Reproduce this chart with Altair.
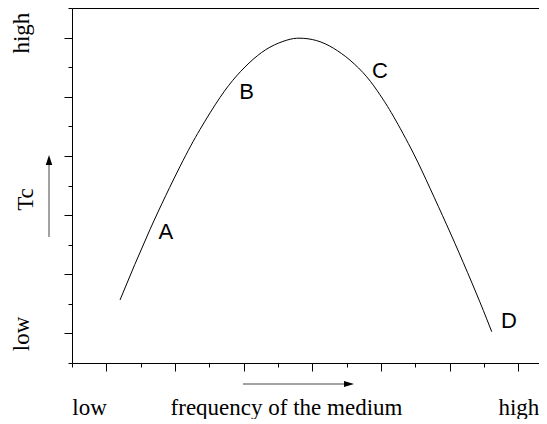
import altair as alt
import pandas as pd

# curve (x = frequency of the medium, y = Tc)
freq = [1.199, 1.636, 2.073, 2.364, 2.655, 2.898, 3.140, 3.383, 3.627, 3.820, 4.063,
        4.305, 4.548, 4.792, 4.985, 5.179, 5.470, 5.713, 5.957, 6.198, 6.442, 6.612]
tc = [0.565, 1.757, 2.821, 3.447, 3.987, 4.354, 4.635, 4.838, 4.956, 4.990, 4.949,
      4.822, 4.619, 4.337, 4.033, 3.673, 3.048, 2.455, 1.834, 1.197, 0.525, 0.029]

# point letters
letter_text = ["A", "B", "C", "D"]
letter_x = [1.866, 3.044, 4.985, 6.861]
letter_y = [1.591, 3.957, 4.312, 0.097]

# ticks
x_major = [1, 2, 3, 4, 5, 6, 7]
x_all = [0.5, 1, 1.5, 2, 2.5, 3, 3.5, 4, 4.5, 5, 5.5, 6, 6.5, 7]
y_major = [0, 1, 2, 3, 4, 5]
y_all = [-0.5, 0, 0.5, 1, 1.5, 2, 2.5, 3, 3.5, 4, 4.5, 5, 5.5]
x_label_low, x_label_high = 1, 7
y_label_low, y_label_high = 0, 5

SERIF = "Liberation Serif"
SANS = "Liberation Sans"

df_curve = pd.DataFrame({"freq": freq, "tc": tc})
df_letters = pd.DataFrame({"t": letter_text, "x": letter_x, "y": letter_y})
one = pd.DataFrame({"a": [0]})

W, H = 467, 355
xscale = alt.Scale(domain=[0.5, 7.3006], nice=False, zero=False)
yscale = alt.Scale(domain=[-0.5, 5.5], nice=False, zero=False)

lab = dict(labelFont=SERIF, labelFontSize=23, labelColor="black", labelOverlap=False,
           grid=False)

x_major_axis = alt.Axis(
    orient="bottom", values=x_major, tickSize=8, **lab,
    labelExpr=f"datum.value === {x_label_high} ? 'high' : ''",
    labelAlign="center", labelBaseline="alphabetic", labelPadding=43, labelFlush=False,
    title="frequency of the medium", titleX=214, titleY=51, titleAlign="center",
    titleBaseline="alphabetic", titleFont=SERIF, titleFontSize=23,
    titleFontWeight="normal", titleColor="black",
)
x_minor_axis = alt.Axis(
    orient="bottom", values=x_all, tickSize=4, domain=False, **lab,
    labelExpr=f"datum.value === {x_label_low} ? 'low' : ''",
    labelAlign="right", labelBaseline="alphabetic", labelPadding=47, labelFlush=False,
    title=None,
)
y_major_axis = alt.Axis(
    orient="left", values=y_major, tickSize=8, **lab,
    labelExpr=f"datum.value === {y_label_low} ? 'low' : ''",
    labelAngle=270, labelAlign="center", labelBaseline="bottom", labelPadding=31,
    title="Tc", titleAngle=270, titleX=-39.5, titleY=191, titleAlign="center",
    titleBaseline="alphabetic", titleFont=SERIF, titleFontSize=23,
    titleFontWeight="normal", titleColor="black",
)
y_minor_axis = alt.Axis(
    orient="left", values=y_all, tickSize=4, domain=False, **lab,
    labelExpr=f"datum.value === {y_label_high} ? 'high' : ''",
    labelAngle=270, labelAlign="center", labelBaseline="bottom", labelPadding=35,
    labelOffset=-5, title=None,
)
top_axis = alt.Axis(orient="top", values=x_all, ticks=False, labels=False,
                    title=None, grid=False)

curve = alt.Chart(df_curve).mark_line(color="black", strokeWidth=1, interpolate="natural").encode(
    x=alt.X("freq:Q", scale=xscale, axis=x_major_axis),
    y=alt.Y("tc:Q", scale=yscale, axis=y_major_axis),
)
minor = alt.Chart(df_curve).mark_line(opacity=0).encode(
    x=alt.X("freq:Q", scale=xscale, axis=x_minor_axis),
    y=alt.Y("tc:Q", scale=yscale, axis=y_minor_axis),
)
top = alt.Chart(df_curve).mark_line(opacity=0).encode(
    x=alt.X("freq:Q", scale=xscale, axis=top_axis),
    y=alt.Y("tc:Q", scale=yscale, axis=None),
)
letters = alt.Chart(df_letters).mark_text(
    font=SANS, fontSize=22, align="center", baseline="alphabetic", color="black"
).encode(
    x=alt.X("x:Q", scale=xscale, axis=None),
    y=alt.Y("y:Q", scale=yscale, axis=None),
    text="t:N",
)

up_path = "M0,-1L0.65,1L-0.65,1Z"
right_path = "M1,0L-1,-0.6L-1,0.6Z"
v_arrow = alt.Chart(one).mark_rule(color="#444", strokeWidth=1).encode(
    x=alt.value(-23), y=alt.value(229), y2=alt.value(152))
v_head = alt.Chart(one).mark_point(shape=up_path, filled=True, size=100, color="black",
                                   opacity=1).encode(x=alt.value(-23), y=alt.value(152))
h_arrow = alt.Chart(one).mark_rule(color="#444", strokeWidth=1).encode(
    x=alt.value(171), x2=alt.value(277), y=alt.value(376))
h_head = alt.Chart(one).mark_point(shape=right_path, filled=True, size=100, color="black",
                                   opacity=1).encode(x=alt.value(277), y=alt.value(376))

chart = alt.layer(minor, curve, top, letters, v_arrow, v_head, h_arrow, h_head).resolve_axis(
    x="independent", y="independent"
).properties(
    width=W, height=H,
    autosize=alt.AutoSizeParams(type="none"),
    padding={"left": 64, "top": 0, "right": 0, "bottom": 56},
).configure_view(stroke=None).configure_axis(
    domainColor="black", domainWidth=1, tickColor="black", tickWidth=1
)

chart.save("out.html", embed_options={"renderer": "svg", "actions": False})
